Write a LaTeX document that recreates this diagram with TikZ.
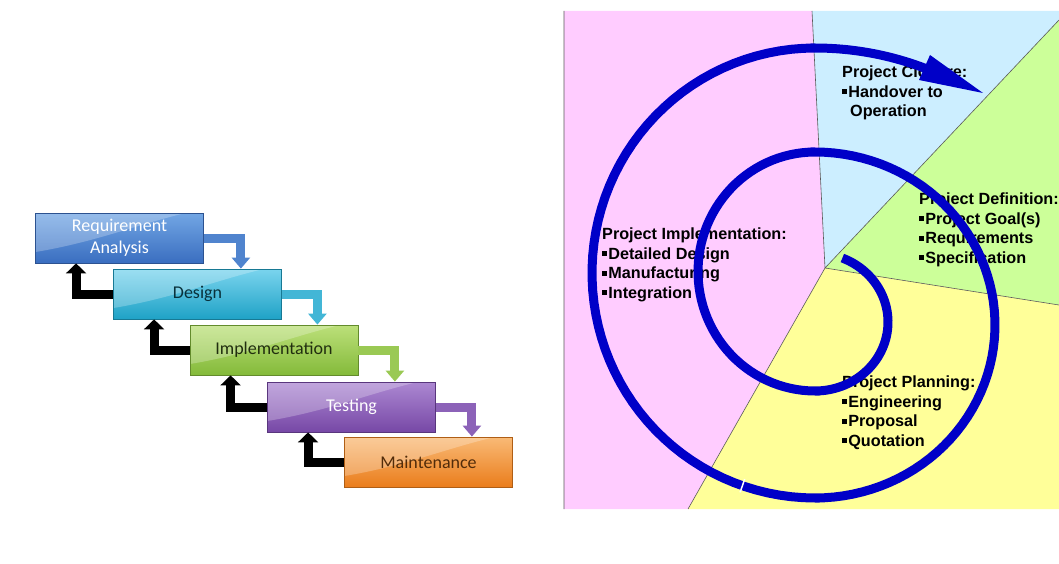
\documentclass[tikz,border=0pt]{standalone}
\usepackage{fontspec}
\setmainfont{Liberation Sans}
\newfontfamily\boxfont{Carlito}
\usetikzlibrary{arrows.meta}

% waterfall colours: dark / light
\definecolor{reqA}{HTML}{3A6EC0}
\definecolor{reqB}{HTML}{72A6E4}
\definecolor{desA}{HTML}{1FA2C6}
\definecolor{desB}{HTML}{7AD4EE}
\definecolor{impA}{HTML}{84BA3A}
\definecolor{impB}{HTML}{BCE07A}
\definecolor{tstA}{HTML}{7748A6}
\definecolor{tstB}{HTML}{AC88D2}
\definecolor{mntA}{HTML}{EA7D1C}
\definecolor{mntB}{HTML}{F9BA76}
% spiral colours
\definecolor{closeblue}{HTML}{CCEEFF}
\definecolor{defgreen}{HTML}{CCFF99}
\definecolor{planyellow}{HTML}{FFFF99}
\definecolor{implpink}{HTML}{FFCCFF}
\definecolor{spiralblue}{RGB}{0,0,200}

\newcommand{\sqb}{\rule[.2em]{.32em}{.32em}\kern.06em}

\tikzset{
  phase/.style n args={3}{
    rectangle, draw=#1!75!black, line width=.8pt,
    top color=#2, bottom color=#1, text=#3,
    minimum width=168pt, minimum height=50pt,
    align=center, font=\boxfont\fontsize{18}{22}\selectfont,
    path picture={
      \fill[white,opacity=.25] (path picture bounding box.north west)
        -- ([xshift=-18pt]path picture bounding box.north east)
        .. controls +(-50pt,-12pt) and +(60pt,10pt)
        .. ([yshift=11pt]path picture bounding box.south west) -- cycle;
    }},
  stepflow/.style={draw=#1, line width=9pt, -{Triangle[length=11pt,width=18pt]}},
  backflow/.style={draw=black, line width=9pt, -{Triangle[length=10pt,width=20pt]}},
  phasetext/.style={anchor=north west, inner sep=0pt, align=left,
    font=\bfseries\fontsize{16.2}{19.5}\selectfont},
  spiral/.style={draw=spiralblue, line width=9pt}
}

\begin{document}
\begin{tikzpicture}[x=1pt,y=-1pt]
\useasboundingbox (0,0) rectangle (1059,564);

% ---- waterfall
\node[phase={reqA}{reqB}{white}] (req) at (119.5,238) {Requirement\\Analysis};
\node[phase={desA}{desB}{desA!30!black}] (des) at (197.5,294) {Design};
\node[phase={impA}{impB}{impA!25!black}] (imp) at (274,350) {Implementation};
\node[phase={tstA}{tstB}{white}] (tst) at (351.5,407) {Testing};
\node[phase={mntA}{mntB}{mntA!35!black}] (mnt) at (428.5,462) {Maintenance};

\draw[stepflow=reqA!60!reqB] (req.east) -| ([xshift=-41pt]des.north east);
\draw[stepflow=desA!60!desB] (des.east) -| ([xshift=-41pt]imp.north east);
\draw[stepflow=impA!60!impB] (imp.east) -| ([xshift=-41pt]tst.north east);
\draw[stepflow=tstA!60!tstB] (tst.east) -| ([xshift=-41pt]mnt.north east);

\draw[backflow] (des.west) -| ([xshift=41pt]req.south west);
\draw[backflow] (imp.west) -| ([xshift=41pt]des.south west);
\draw[backflow] (tst.west) -| ([xshift=41pt]imp.south west);
\draw[backflow] (mnt.west) -| ([xshift=41pt]tst.south west);

% ---- spiral model
\coordinate (O) at (825,268);
\fill[implpink] (564,11) -- (812,11) -- (O) -- (688,509) -- (564,509) -- cycle;
\fill[closeblue] (812,11) -- (1059,11) -- (1059,20) -- (O) -- cycle;
\fill[defgreen] (1059,20) -- (1059,305) -- (O) -- cycle;
\fill[planyellow] (O) -- (1059,305) -- (1059,509) -- (688,509) -- cycle;
\draw[gray!70!black, line width=.6pt]
  (812,11) -- (O) -- (1059,20) (1059,305) -- (O) -- (688,509)
  (564,11) -- (564,509);

\node[phasetext] (closure) at (842,66)
  {Project Closure:\\\sqb Handover to\\\hspace*{8pt}Operation};
\node[phasetext] (definition) at (919,193)
  {Project Definition:\\\sqb Project Goal(s)\\\sqb Requirements\\\sqb Specification};
\node[phasetext] (implementation) at (602,228)
  {Project Implementation:\\\sqb Detailed Design\\\sqb Manufacturing\\\sqb Integration};
\node[phasetext] (planning) at (842,376)
  {Project Planning:\\\sqb Engineering\\\sqb Proposal\\\sqb Quotation};

% half turns, alternating centres
\draw[spiral, samples=60]
  plot[domain=-68:90] ({815+73*cos(\x)},{322+69*sin(\x)})
  -- plot[domain=90:270] ({815+117*cos(\x)},{271.5+119.5*sin(\x)})
  -- plot[domain=-90:90] ({815+180*cos(\x)},{325+173*sin(\x)})
  -- plot[domain=90:270] ({815+223*cos(\x)},{273+225*sin(\x)})
  -- plot[domain=-90:-67] ({815+293*cos(\x)},{325+277*sin(\x)});
\fill[spiralblue] (930,55) -- (983,93) -- (919,80) -- cycle;
\draw[white, line width=1.5pt] (744.7,479.1) -- (740.1,492.3);

\end{tikzpicture}
\end{document}
